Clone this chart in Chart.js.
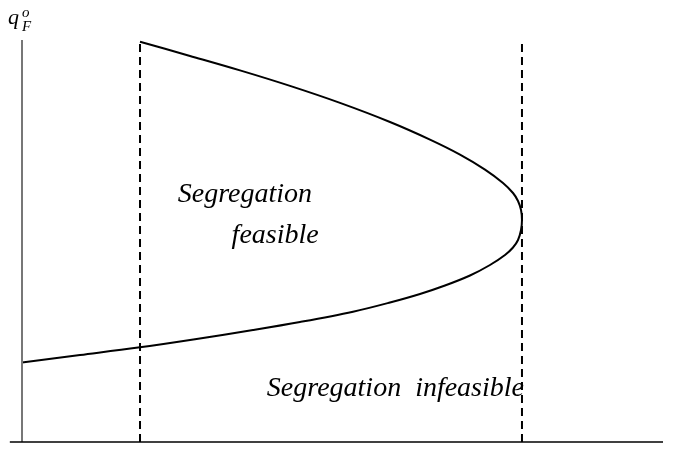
<!DOCTYPE html>
<html>
<head>
<meta charset="utf-8">
<script src="https://cdn.jsdelivr.net/npm/chart.js@4.4.3/dist/chart.umd.min.js"></script>
<style>
  html, body { margin: 0; padding: 0; background: #fff; }
  #wrap { width: 681px; height: 455px; position: relative; }
</style>
</head>
<body>
<div id="wrap"><canvas id="region-chart"></canvas></div>
<script>
// boundary curve, traced from the lower branch up through the vertex to the upper end
const curveX = [
  0.000, 0.905, 1.810, 2.699, 3.604, 4.337, 5.164, 5.741, 6.209, 6.599, 6.989, 7.301, 7.535, 7.660, 7.738, 7.785,
  7.800,
  7.785, 7.738, 7.660, 7.504, 7.223, 6.833, 6.365, 5.741, 4.961, 4.181, 3.401, 2.621, 1.841,
];
const curveY = [
  1.978, 2.162, 2.348, 2.557, 2.786, 2.985, 3.241, 3.470, 3.682, 3.893, 4.142, 4.403, 4.652, 4.838, 5.025, 5.274,
  5.522,
  5.771, 5.995, 6.194, 6.443, 6.776, 7.149, 7.522, 7.960, 8.435, 8.858, 9.244, 9.604, 9.958,
];

// vertical cut-offs drawn dashed
const cutoffX = [1.841, 7.800];
const cutoffTop = [10, 9.95];

// axis extents
const xAxisStart = -0.19;
const xMax = 10;
const yMax = 10;

const regionLabels = [
  { text: "Segregation", x: 2.43, y: 5.96 },
  { text: "feasible", x: 3.27, y: 4.94 },
  { text: "Segregation  infeasible", x: 3.82, y: 1.15 },
];

const curvePoints = curveX.map((x, i) => ({ x, y: curveY[i] }));

const datasets = [
  {
    data: [{ x: xAxisStart, y: 0 }, { x: xMax, y: 0 }],
    borderColor: "#000",
    borderWidth: 1.5,
  },
  {
    data: [{ x: 0, y: 0 }, { x: 0, y: yMax }],
    borderColor: "#777",
    borderWidth: 2,
  },
  ...cutoffX.map((x, i) => ({
    data: [{ x, y: 0 }, { x, y: cutoffTop[i] }],
    borderColor: "#000",
    borderWidth: 2,
    borderDash: [8, 5],
  })),
  {
    data: curvePoints,
    borderColor: "#000",
    borderWidth: 2,
    tension: 0.35,
  },
];

const textPlugin = {
  id: "regionText",
  afterDatasetsDraw(chart) {
    const { ctx, scales } = chart;
    ctx.save();
    ctx.fillStyle = "#000";
    ctx.textBaseline = "alphabetic";
    ctx.font = "italic 28px 'Liberation Serif'";
    regionLabels.forEach((label) => {
      ctx.fillText(label.text, scales.x.getPixelForValue(label.x), scales.y.getPixelForValue(label.y));
    });

    // axis symbol q with sub F and super o
    ctx.font = "italic 22px 'Liberation Serif'";
    ctx.fillText("q", 8, 24);
    ctx.font = "italic 15px 'Liberation Serif'";
    ctx.fillText("o", 22, 17);
    ctx.fillText("F", 22, 31);
    ctx.restore();
  },
};

new Chart(document.getElementById("region-chart"), {
  type: "scatter",
  data: { datasets },
  options: {
    responsive: true,
    maintainAspectRatio: false,
    animation: false,
    events: [],
    layout: { padding: { left: 22, right: 18, top: 40, bottom: 13 } },
    elements: {
      point: { radius: 0 },
      line: { fill: false },
    },
    datasets: { scatter: { showLine: true, clip: false } },
    scales: {
      x: { type: "linear", min: 0, max: xMax, display: false },
      y: { type: "linear", min: 0, max: yMax, display: false },
    },
    plugins: {
      legend: { display: false },
      tooltip: { enabled: false },
    },
  },
  plugins: [textPlugin],
});
</script>
</body>
</html>
